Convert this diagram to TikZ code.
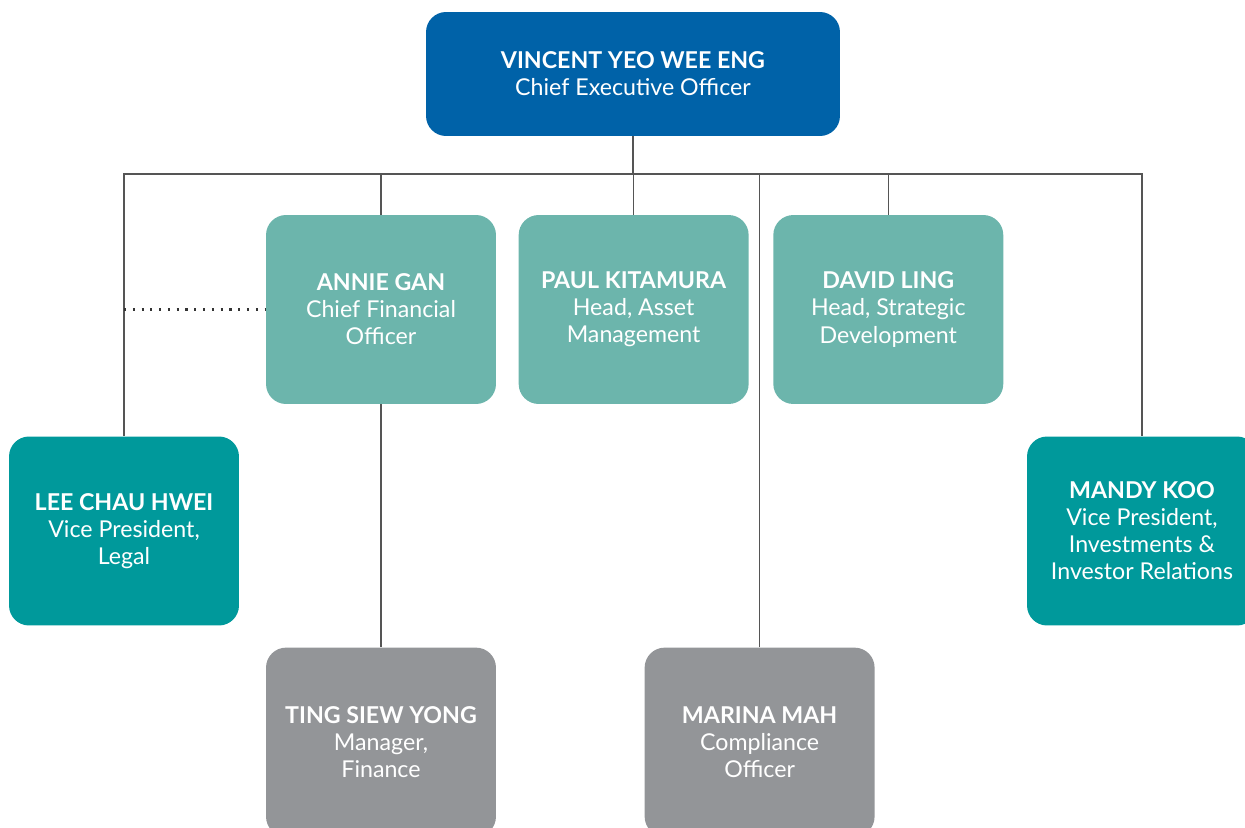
\documentclass[tikz,border=0pt]{standalone}
\usepackage{fontspec}
\setmainfont{Lato}
\usetikzlibrary{positioning}
\definecolor{ceoblue}{HTML}{0062A8}
\definecolor{headteal}{HTML}{6CB5AC}
\definecolor{vpteal}{HTML}{00999B}
\definecolor{staffgray}{HTML}{939598}
\definecolor{linegray}{HTML}{555555}
\tikzstyle{box} = [rounded corners=0.4cm, text=white, align=center, inner sep=0pt, minimum width=4.6cm, minimum height=3.78cm, font=\fontsize{13.2}{15.4}\selectfont]
\tikzstyle{link} = [draw=linegray, line width=0.6pt]

\begin{document}
\begin{tikzpicture}[x=0.02cm, y=-0.02cm]
                        \useasboundingbox (0,0) rectangle (1245,828);
                        \clip (0,0) rectangle (1245,828);
                        \coordinate (bus) at (633,174);

                        \node[box, fill=ceoblue, minimum width=8.28cm, minimum height=2.48cm](ceo) at (633,74) {\textbf{VINCENT YEO WEE ENG}\\Chief Executive Officer};
                        \node[box, fill=headteal](annie) at (381,309.5) {\textbf{ANNIE GAN}\\Chief Financial\\Officer};
                        \node[box, fill=headteal, right=0.44cm of annie](paul) {\textbf{PAUL KITAMURA}\\Head, Asset\\Management};
                        \node[box, fill=headteal, right=0.48cm of paul](david) {\textbf{DAVID LING}\\Head, Strategic\\Development};
                        \node[box, fill=vpteal](lee) at (124,531) {\textbf{LEE CHAU HWEI}\\Vice President,\\Legal};
                        \node[box, fill=vpteal](mandy) at (1142,531) {\textbf{MANDY KOO}\\Vice President,\\Investments \&\\Investor Relations};
                        \node[box, fill=staffgray, below=4.86cm of annie](ting) {\textbf{TING SIEW YONG}\\Manager,\\Finance};
                        \node[box, fill=staffgray, right=2.96cm of ting](marina) {\textbf{MARINA MAH}\\Compliance\\Officer};

                        \draw[link] (ceo.south) -- (bus);
                        \draw[link] (lee.north) |- (mandy.north |- bus) -- (mandy.north);
                        \draw[link] (annie.north) -- (annie.north |- bus);
                        \draw[link] (paul.north) -- (paul.north |- bus);
                        \draw[link] (david.north) -- (david.north |- bus);
                        \draw[link] (marina.north) -- (marina.north |- bus);
                        \draw[link] (annie.south) -- (ting.north);
                        \draw[link, draw=black!80, line width=1.2pt, dash pattern=on 1.2pt off 3.8pt] (annie.west -| lee.north) -- (annie.west);
                    \end{tikzpicture}
\end{document}
